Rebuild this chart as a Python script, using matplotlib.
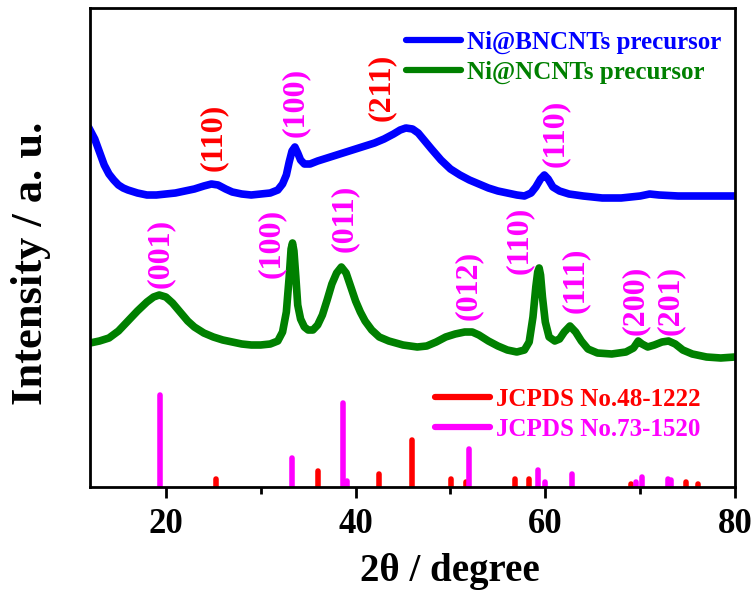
import matplotlib
matplotlib.use("Agg")
import matplotlib.pyplot as plt
from matplotlib.lines import Line2D

# ---------------- data ----------------
blue_x = [12.0, 12.5, 13.0, 13.5, 14.0, 14.5, 15.0, 15.5, 16.0, 17.0, 18.0, 19.0, 20.0, 21.0,
          22.0, 23.0, 24.0, 24.8, 25.5, 26.3, 27.0, 28.0, 29.0, 30.0, 31.0, 31.8, 32.3, 32.7,
          33.0, 33.3, 33.6, 33.9, 34.2, 34.6, 35.2, 36.0, 37.0, 38.0, 39.0, 40.0, 41.0, 42.0,
          43.0, 44.0, 44.7, 45.3, 46.0, 46.6, 47.3, 48.0, 49.0, 50.0, 51.0, 52.0, 53.0, 54.0,
          55.0, 56.0, 57.0, 57.8, 58.5, 59.0, 59.5, 59.9, 60.3, 60.8, 61.5, 62.5, 64.0, 66.0,
          68.0, 70.0, 71.0, 72.0, 74.0, 76.0, 78.0, 80.0]
blue_y = [357, 348, 335, 322, 313, 307, 302, 299, 297, 294, 292, 292, 293, 294,
          296, 298, 301, 303, 302, 298, 295, 293, 292, 293, 294, 297, 303, 312,
          325, 336, 340, 334, 327, 323, 323, 326, 329, 332, 335, 338, 341, 344,
          348, 353, 357, 359, 358, 354, 346, 338, 327, 318, 312, 307, 303, 299,
          296, 294, 292, 291, 294, 300, 308, 312, 308, 300, 296, 293, 291, 289,
          289, 291, 293, 292, 291, 291, 291, 291]

green_x = [12.0, 13.0, 14.0, 15.0, 16.0, 17.0, 18.0, 18.7, 19.3, 20.0, 20.7, 21.5, 22.3, 23.0,
           24.0, 25.0, 26.0, 27.0, 28.0, 29.0, 30.0, 31.0, 31.8, 32.3, 32.7, 33.0, 33.2, 33.35,
           33.5, 33.7, 33.9, 34.2, 34.6, 35.0, 35.5, 36.0, 36.5, 37.0, 37.5, 38.0, 38.5, 39.0,
           39.5, 40.0, 40.5, 41.0, 41.7, 42.5, 43.5, 45.0, 46.5, 47.5, 48.5, 49.5, 50.5, 51.5,
           52.3, 53.0, 54.0, 55.0, 56.0, 57.0, 57.8, 58.3, 58.7, 59.0, 59.2, 59.35, 59.5, 59.7,
           60.0, 60.4, 61.0, 61.5, 62.0, 62.6, 63.2, 63.8, 64.5, 65.5, 67.0, 68.5, 69.3, 69.8,
           70.2, 70.8, 71.5, 72.3, 73.0, 73.7, 74.5, 75.5, 77.0, 78.5, 80.0]
green_y = [144, 146, 149, 156, 166, 176, 185, 190, 192, 190, 184, 175, 166, 160,
           154, 150, 147, 145, 143, 142, 142, 143, 146, 155, 175, 210, 238, 244,
           236, 210, 182, 168, 160, 157, 157, 162, 172, 187, 203, 214, 220, 214,
           200, 186, 175, 166, 157, 150, 146, 142, 140, 141, 145, 150, 153, 155,
           155, 152, 146, 141, 137, 135, 137, 145, 170, 200, 215, 219, 212, 190,
           165, 150, 146, 148, 155, 161, 155, 146, 138, 134, 133, 135, 139, 146,
           143, 140, 142, 145, 146, 143, 137, 133, 130, 129, 130]

ref1_pos = [25.3, 36.0, 42.5, 45.9, 50.1, 51.6, 56.8, 58.3, 69.0, 74.8, 76.1]   # JCPDS 48-1222
ref1_h = [8, 16, 13, 47, 8, 5, 8, 8, 3, 5, 3]
ref2_pos = [19.35, 33.26, 38.7, 39.1, 52.0, 59.2, 60.0, 62.8, 69.6, 70.2, 72.96, 73.3]  # JCPDS 73-1520
ref2_h = [92, 29, 84, 6, 38, 17, 5, 13, 5, 10, 8, 7]

blue_labels = [("(110)", 25.0, 350, "#FF0000"), ("(100)", 33.6, 385, "#FF00FF"),
               ("(211)", 42.7, 400, "#FF0000"), ("(110)", 61.1, 354, "#FF00FF")]
green_labels = [("(001)", 19.4, 234), ("(100)", 31.1, 244), ("(011)", 38.8, 269),
                ("(012)", 51.85, 202), ("(110)", 57.3, 247), ("(111)", 63.2, 207),
                ("(200)", 69.5, 187), ("(201)", 73.2, 187)]

series_names = ["Ni@BNCNTs precursor", "Ni@NCNTs precursor"]
ref_names = ["JCPDS No.48-1222", "JCPDS No.73-1520"]
xticks = [20, 40, 60, 80]

# ---------------- plot ----------------
serif = ["Liberation Serif", "DejaVu Serif"]
plt.rcParams["font.family"] = serif
plt.rcParams["font.weight"] = "bold"

fig = plt.figure(figsize=(7.53, 5.93), dpi=100)
ax = fig.add_axes([90 / 753, 1 - 487 / 593, 645 / 753, 479 / 593])

ax.plot(blue_x, blue_y, color="#0000FF", lw=5.5, solid_joinstyle="round")
ax.plot(green_x, green_y, color="#008000", lw=5.5, solid_joinstyle="round")

ax.vlines(ref1_pos, 0, ref1_h, colors="#FF0000", lw=4, capstyle="round")
ax.vlines(ref2_pos, 0, ref2_h, colors="#FF00FF", lw=4, capstyle="round")

lab_fs = 23
for t, x, y, c in blue_labels:
    ax.text(x, y, t, color=c, rotation=90, ha="center", va="center",
            fontsize=lab_fs, fontweight="bold")
for t, x, y in green_labels:
    ax.text(x, y, t, color="#FF00FF", rotation=90, ha="center", va="center",
            fontsize=lab_fs, fontweight="bold")

leg_fs = 18
h1 = [Line2D([], [], color="#0000FF", lw=4.5, solid_capstyle="round"),
      Line2D([], [], color="#008000", lw=4.5, solid_capstyle="round")]
leg1 = ax.legend(h1, series_names, loc="upper left", bbox_to_anchor=(0.490, 0.952),
                 frameon=False, handlelength=2.2, handletextpad=0.25,
                 labelspacing=0.28, borderpad=0, borderaxespad=0,
                 prop={"family": serif, "weight": "bold", "size": leg_fs})
for txt, c in zip(leg1.get_texts(), ["#0000FF", "#008000"]):
    txt.set_color(c)
ax.add_artist(leg1)

h2 = [Line2D([], [], color="#FF0000", lw=4.5, solid_capstyle="round"),
      Line2D([], [], color="#FF00FF", lw=4.5, solid_capstyle="round")]
leg2 = ax.legend(h2, ref_names, loc="upper left", bbox_to_anchor=(0.535, 0.207),
                 frameon=False, handlelength=2.2, handletextpad=0.25,
                 labelspacing=0.28, borderpad=0, borderaxespad=0,
                 prop={"family": serif, "weight": "bold", "size": leg_fs})
for txt, c in zip(leg2.get_texts(), ["#FF0000", "#FF00FF"]):
    txt.set_color(c)

ax.set_xlim(12, 80)
ax.set_ylim(0, 479)
ax.set_xticks(xticks)
ax.set_xticks([30, 50, 70], minor=True)
ax.set_yticks([])
ax.tick_params(axis="x", which="major", direction="out", length=8, width=2,
               labelsize=25, pad=7)
ax.tick_params(axis="x", which="minor", direction="out", length=5, width=2)
for lbl in ax.get_xticklabels():
    lbl.set_fontweight("bold")
for s in ax.spines.values():
    s.set_linewidth(2)

ax.set_xlabel("2θ / degree", fontsize=28, fontweight="bold", va="center")
ax.xaxis.set_label_coords(0.558, -0.177)
ax.set_ylabel("Intensity / a. u.", fontsize=32, fontweight="bold", va="center")
ax.yaxis.set_label_coords(-0.091, 0.468)

fig.savefig("out.png", dpi=100)
